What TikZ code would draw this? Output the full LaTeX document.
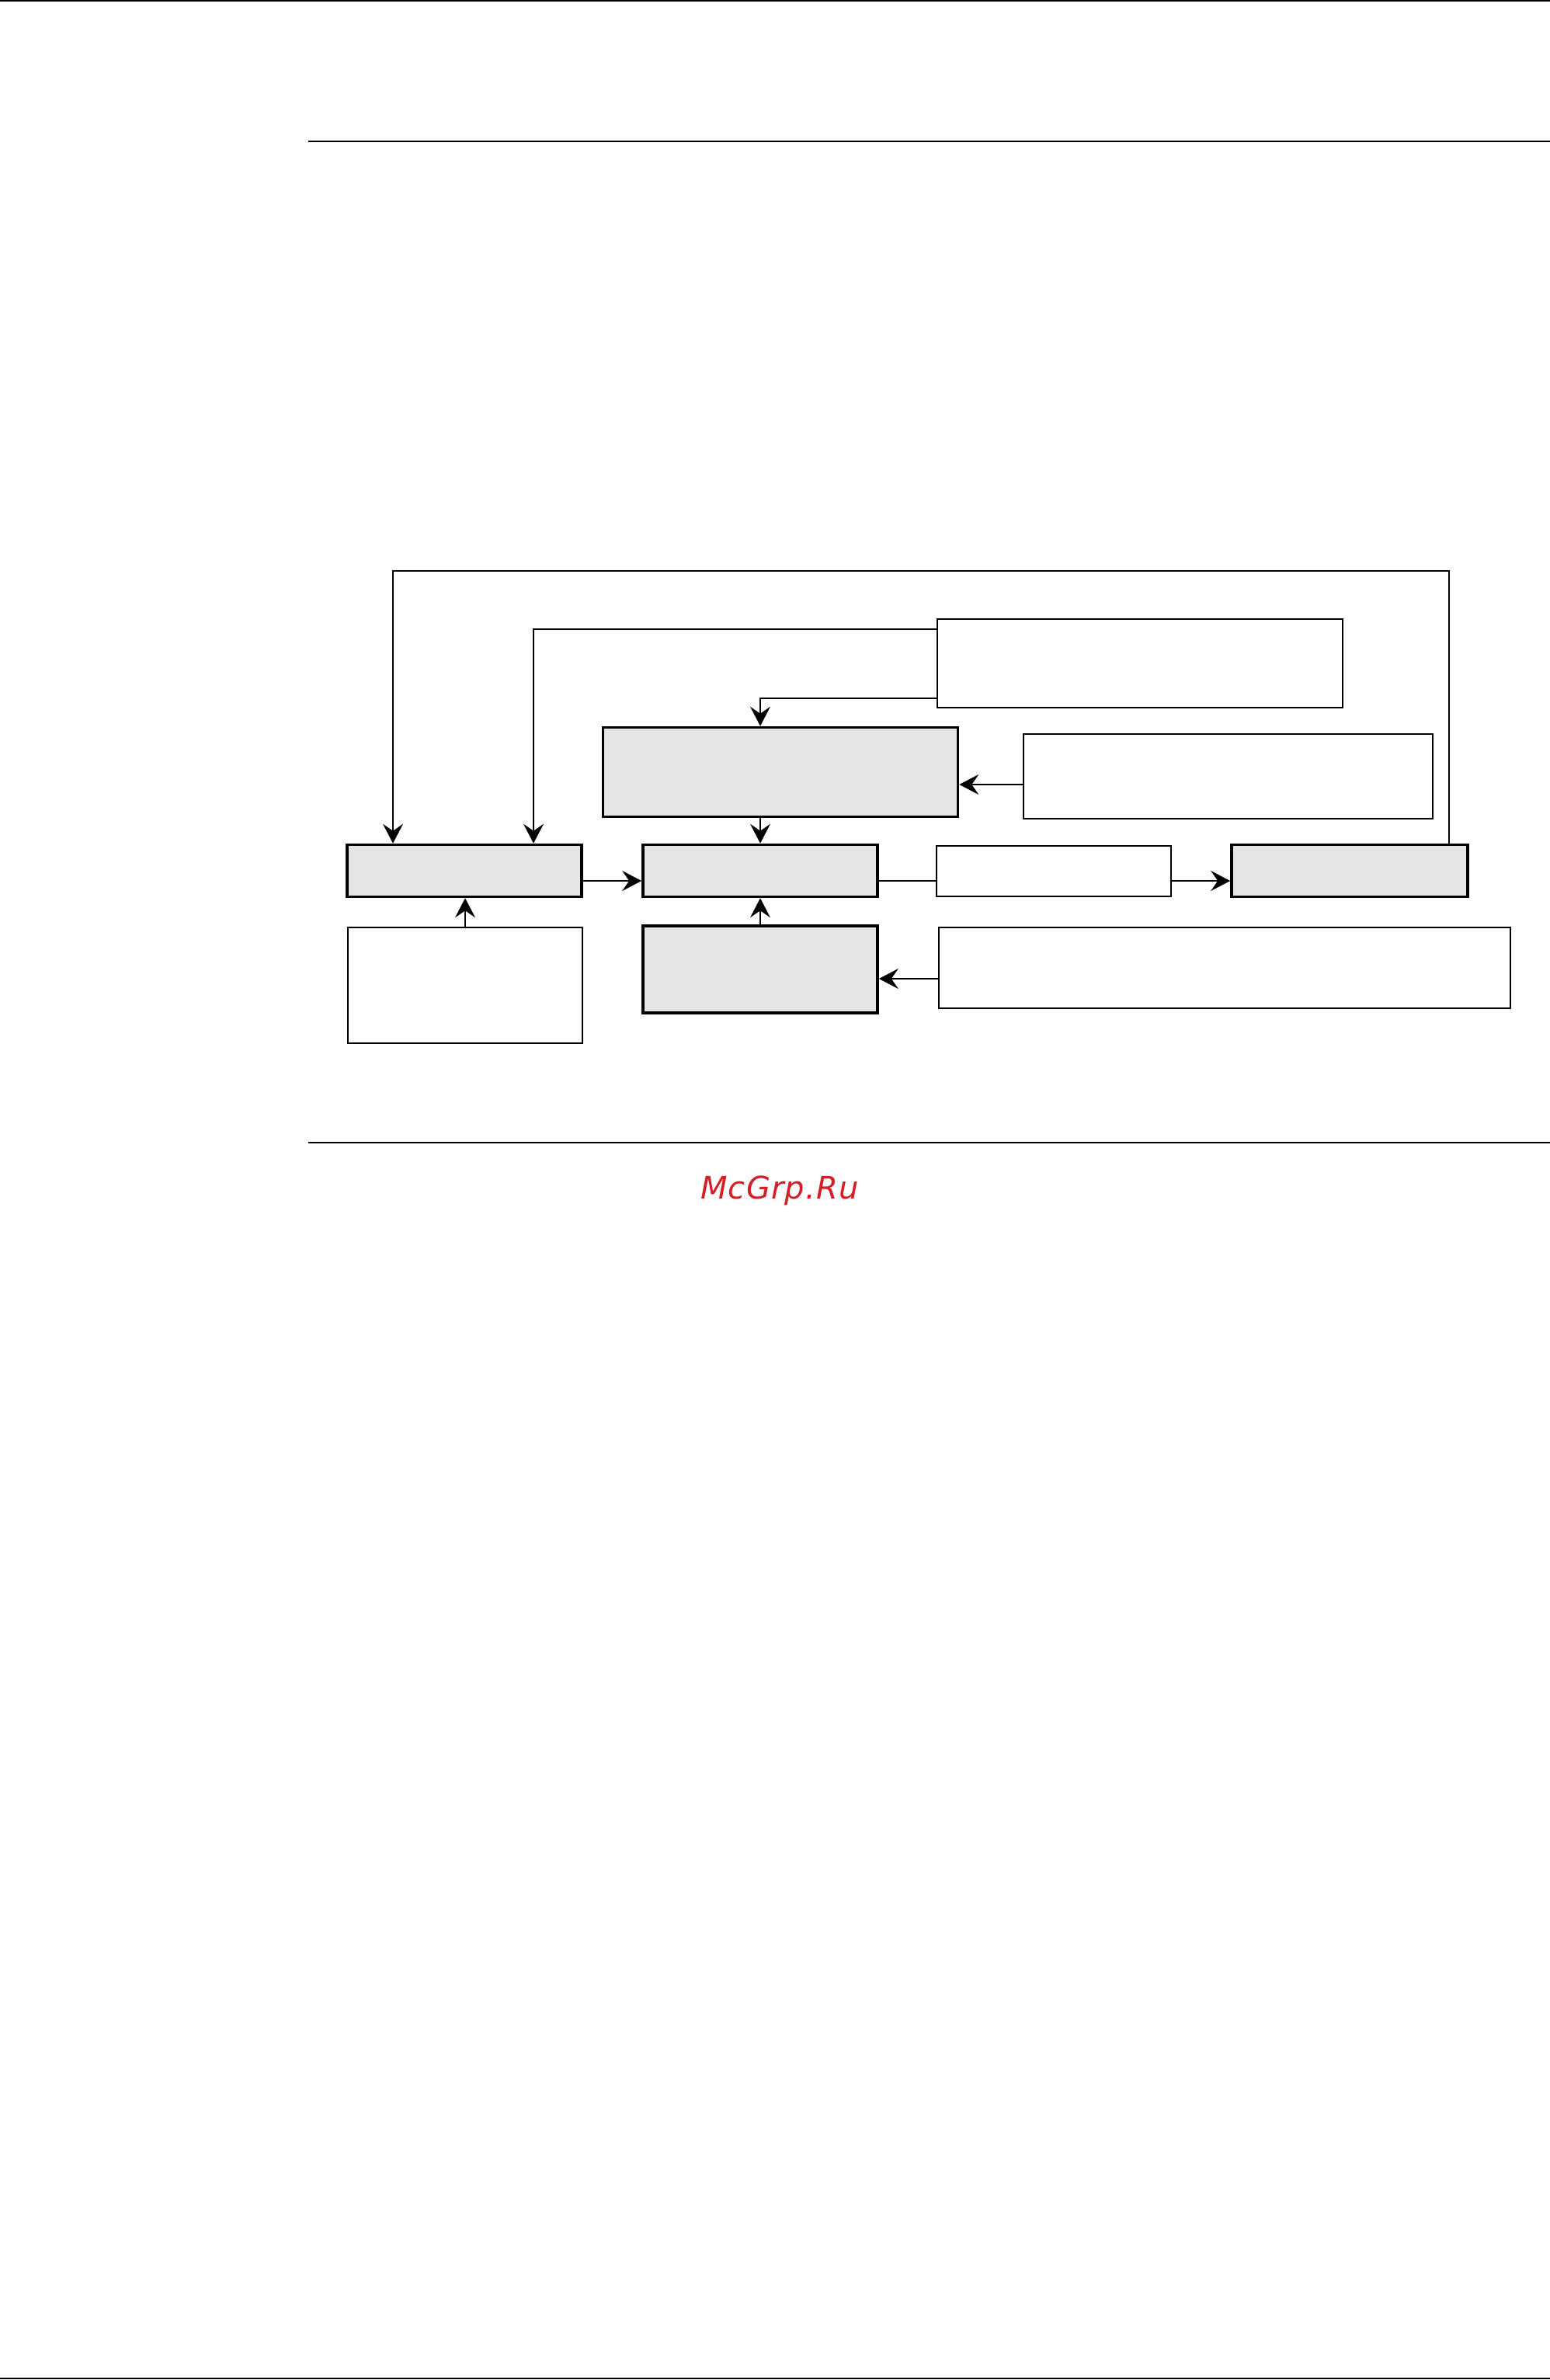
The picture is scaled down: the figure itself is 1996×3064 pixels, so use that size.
\documentclass[tikz,border=0pt]{standalone}
\usepackage{fontspec}
\newfontfamily\wmfont[LetterSpace=3]{DejaVu Sans}
\usetikzlibrary{arrows.meta}
\usetikzlibrary{positioning}
\definecolor{boxgray}{RGB}{229,229,229}
\definecolor{wmred}{RGB}{210,32,36}
\tikzset {
  flow path/.style = {
    draw = black,
    line width = 1.8pt
  },
  % path style with an arrow at the end
  arr/.style = {
    flow path,
    -{Stealth[length=25pt, width=26pt, inset=9pt]}
  },
  % path style with no arrows
  narr/.style = {
    flow path
  },
  rule/.style = {
    draw = black,
    line width = 2.4pt
  }
}
\tikzset {
  flow node/.style = {
    draw = black,
    rectangle,
    inner sep = 0
  },
  % main block, grey and heavy
  block/.style = {
    flow node,
    fill = boxgray,
    line width = 3.6pt
  },
  % side note, plain frame
  note/.style = {
    flow node,
    fill = white,
    line width = 2pt
  }
}
\begin{document}
\begin{tikzpicture}[x=1pt, y=-1pt]
    \useasboundingbox (0, 0) rectangle (1996, 3064);
    % page rules
    \draw[rule] (0, 1) -- (1996, 1);
    \draw[rule] (397, 182) -- (1996, 182);
    \draw[rule] (397, 1471) -- (1996, 1471);
    \draw[rule] (0, 3062) -- (1996, 3062);

    \node[note, minimum width=522pt, minimum height=114pt] at (1468, 854) (upnote) {};
    \node[block, minimum width=457pt, minimum height=115pt] at (1005, 994) (upper) {};
    \node[note, minimum width=527pt, minimum height=109pt] at (1581, 999) (sidenote) {};
    \node[block, minimum width=302pt, minimum height=67pt] at (598, 1121) (input) {};
    \node[block, minimum width=302pt, minimum height=67pt] at (979, 1121) (core) {};
    \node[note, minimum width=302pt, minimum height=65pt] at (1357, 1121) (link) {};
    \node[block, minimum width=304pt, minimum height=67pt] at (1738, 1121) (output) {};
    \node[note, minimum width=302pt, minimum height=149pt] at (599, 1268) (feed) {};
    \node[block, minimum width=302pt, minimum height=112pt] at (979, 1248) (lower) {};
    \node[note, minimum width=736pt, minimum height=104pt] at (1577, 1246) (lownote) {};

    \coordinate (back-right) at (1866, 735);
    \coordinate (back-left) at (506, 735);
    \coordinate (note-turn) at (687, 810);
    \coordinate (upper-turn) at (979, 899);

    \draw[arr] (output.north -| back-right)
    -- (back-right)
    -- (back-left)
    -- (back-left |- input.north);
    \draw[arr] (upnote.west |- note-turn)
    -- (note-turn)
    -- (note-turn |- input.north);
    \draw[arr] (upnote.west |- upper-turn)
    -- (upper-turn)
    -- (upper-turn |- upper.north);
    \draw[arr] ([yshift=-11pt]sidenote.west)
    -- ([yshift=-11pt]sidenote.west -| upper.east);
    \draw[arr] (upper.south -| core.north)
    -- (core.north);

    \draw[arr] ([yshift=-13pt]input.east)
    -- ([yshift=-13pt]core.west);
    \draw[narr] ([yshift=-13pt]core.east)
    -- ([yshift=-13pt]link.west);
    \draw[arr] ([yshift=-13pt]link.east)
    -- ([yshift=-13pt]output.west);

    \draw[arr] (feed.north)
    -- (feed.north |- input.south);
    \draw[arr] (lower.north)
    -- (core.south);
    \draw[arr] ([yshift=-14pt]lownote.west)
    -- ([yshift=-14pt]lownote.west -| lower.east);

    \node[text=wmred, font=\wmfont\itshape\fontsize{40}{48}\selectfont] at (1004, 1533) (mark) {McGrp.Ru};
  \end{tikzpicture}
\end{document}
